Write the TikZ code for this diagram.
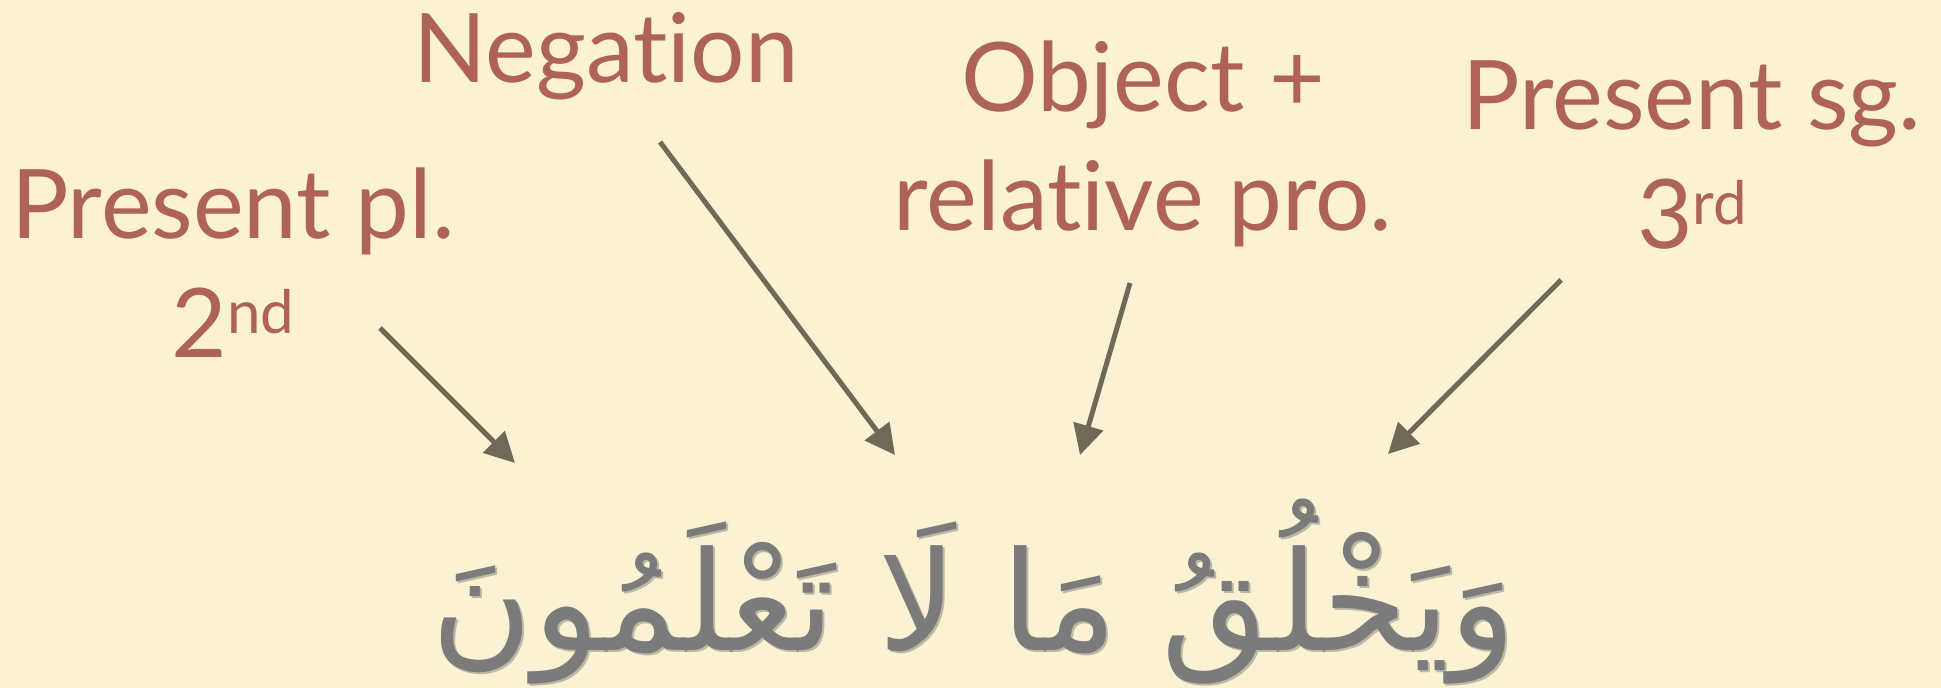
\documentclass[tikz,border=0pt]{standalone}
\usepackage{fontspec}
\usetikzlibrary{arrows.meta}
\setmainfont{Lato}[Ligatures=NoCommon]
\newfontfamily\arabicfont[Script=Arabic]{DejaVu Sans}
\TeXXeTstate=1
\definecolor{paper}{HTML}{FBF2D3}
\definecolor{glosscol}{HTML}{AE6356}
\definecolor{arrowcol}{HTML}{6F6A58}
\definecolor{scriptcol}{HTML}{7B7B7B}
\newcommand{\ordsfx}[1]{\raisebox{24pt}{\fontsize{60}{60}\selectfont #1}}
\tikzset{
  gloss/.style={text=glosscol, font=\fontsize{96}{119}\selectfont, align=center, anchor=base, inner sep=0pt},
  verse/.style={anchor=base, inner sep=0pt, font=\fontsize{138}{138}\arabicfont},
  pointer/.style={draw=arrowcol, line width=5pt, -{Triangle[length=30pt,width=30pt]}},
}
\begin{document}
\begin{tikzpicture}[x=1pt,y=-1pt]
\useasboundingbox (0,0) rectangle (1941,688);
\fill[paper] (0,0) rectangle (1941,688);
\node[gloss] (plural) at (233,357) {Present pl.\\2\ordsfx{nd}};
\node[gloss] (negation) at (606,82) {Negation};
\node[gloss] (object) at (1143,230) {Object +\\relative pro.};
\node[gloss] (singular) at (1692,248) {Present sg.\\3\ordsfx{rd}};
\node[verse, text=black!70, opacity=0.35] (verse-shadow) at (976,652) {\beginR وَيَخْلُقُ مَا لَا تَعْلَمُونَ\endR};
\node[verse, text=scriptcol] (verse-text) at (974,650) {\beginR وَيَخْلُقُ مَا لَا تَعْلَمُونَ\endR};
\coordinate (plural-tail) at (380,328);
\coordinate (plural-tip) at (515,463);
\coordinate (negation-tail) at (660,142);
\coordinate (negation-tip) at (895,455);
\coordinate (object-tail) at (1130,283);
\coordinate (object-tip) at (1080,455);
\coordinate (singular-tail) at (1561,280);
\coordinate (singular-tip) at (1388,454);
\draw[pointer] (plural-tail) -- (plural-tip);
\draw[pointer] (negation-tail) -- (negation-tip);
\draw[pointer] (object-tail) -- (object-tip);
\draw[pointer] (singular-tail) -- (singular-tip);
\end{tikzpicture}
\end{document}
